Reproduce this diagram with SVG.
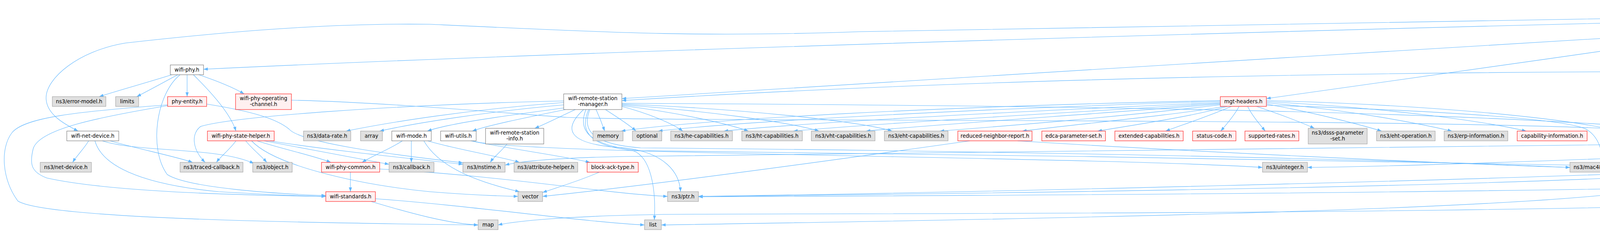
<svg xmlns="http://www.w3.org/2000/svg" width="6509" height="593" viewBox="0 0 6509 593">
<style>
.node rect{stroke-width:1}
.w{fill:#ffffff;stroke:#666666}
.g{fill:#e0e0e0;stroke:#999999}
.r{fill:#fff0f0;stroke:#ff0000}
.rt{fill:#999999;stroke:#666666}
text{font-family:"DejaVu Sans","Liberation Sans",sans-serif;font-size:13.33px;fill:#000;text-anchor:middle}
#edges path{fill:none;stroke:#63b8ff;stroke-width:1.1;marker-end:url(#ah)}
</style>
<defs>
<marker id="ah" viewBox="0 0 11 8" refX="11" refY="4" markerWidth="11" markerHeight="8" markerUnits="userSpaceOnUse" orient="auto"><path d="M0,0L11,4L0,8z" fill="#63b8ff"/></marker>
</defs>
<rect x="0" y="0" width="6509" height="593" fill="#ffffff"/>
<g id="edges">
<path d="M4991,35 C4800,55 4520,92 4361,101"/>
<path d="M4998,45 C4930,62 4860,78 4804,93"/>
<path d="M5076,45 C5066,62 5048,78 5036,93"/>
<path d="M5112,45 C5125,62 5140,78 5151,93"/>
<path d="M5150,45 C5200,62 5260,80 5292,93"/>
<path d="M5188,45 C5300,62 5400,85 5455,93"/>
<path d="M5197,41 C5350,58 5500,85 5580,93"/>
<path d="M5197,37 C5400,50 5650,78 5768,93"/>
<path d="M5197,34 C5450,45 5800,75 5960,93"/>
<path d="M5197,32 C5500,40 5900,70 6085,93"/>
<path d="M5197,30 C5550,37 6000,68 6192,93"/>
<path d="M5197,28 C5600,33 6100,66 6340,93"/>
<path d="M5008,45 C4920,100 4830,170 4804,247"/>
<path d="M5018,45 C4930,90 4900,180 5060,236 C5200,285 5330,315 5400,335"/>
<path d="M4991,33 C4000,45 3000,60 2200,81 C1800,95 1600,85 1100,62 C800,58 500,90 321,110 C200,130 118,200 118,250 C118,290 160,315 200,335"/>
<path d="M4991,39 C3500,70 1500,130 521,177"/>
<path d="M4994,44 C4000,100 2500,200 1592,252"/>
<path d="M4995,44 C4700,80 4635,150 4632,265 C4628,350 4600,380 4460,392 C4000,410 3600,425 3347,428"/>
<path d="M4303,118 L4303,166"/>
<path d="M4245,110 C3900,160 3500,215 3242,252"/>
<path d="M4285,118 C4230,170 4235,260 4240,335"/>
<path d="M4330,118 C4450,170 4620,250 4713,335"/>
<path d="M4695,112 C4550,135 4450,158 4348,172"/>
<path d="M4738,118 C4680,200 4570,280 4517,335"/>
<path d="M4750,118 C4745,200 4730,280 4728,335"/>
<path d="M4760,118 C4850,230 4950,300 5100,318 C5250,325 5350,325 5405,335"/>
<path d="M5020,118 L5020,166"/>
<path d="M4293,191 C4260,240 4210,290 4182,335"/>
<path d="M4299,191 C4290,250 4262,300 4252,335"/>
<path d="M4310,191 C4325,280 4345,360 4349,415"/>
<path d="M4257,183 C3500,185 2500,200 1592,257"/>
<path d="M4305,191 C4305,330 4280,420 4148,454 C3600,480 2500,495 1788,502"/>
<path d="M4314,191 C4420,330 4460,430 4224,484 C3900,540 2500,562 1693,575"/>
<path d="M4336,191 C4500,230 4600,290 4594,329 C4590,370 4500,392 4400,400 C4300,408 4230,418 4181,425"/>
<path d="M3124,262 C2600,285 2100,310 1853,335"/>
<path d="M3124,264 C2700,290 2250,315 2031,335"/>
<path d="M3124,266 C2750,295 2400,318 2217,335"/>
<path d="M3124,268 C2850,300 2600,320 2406,335"/>
<path d="M3124,259 C2500,278 1900,310 1685,335"/>
<path d="M3124,257 C2400,272 1800,305 1590,335"/>
<path d="M3135,272 C3000,295 2750,318 2617,335"/>
<path d="M3142,272 C3050,298 2900,320 2810,335"/>
<path d="M3152,272 C3100,295 3030,318 2984,335"/>
<path d="M3172,272 C3160,295 3140,318 3125,335"/>
<path d="M3194,272 C3205,295 3225,318 3239,335"/>
<path d="M3217,272 C3270,290 3330,312 3365,328"/>
<path d="M3242,266 C3350,285 3470,315 3537,335"/>
<path d="M3242,263 C3450,280 3630,315 3717,335"/>
<path d="M3242,260 C3550,275 3800,310 3907,335"/>
<path d="M3242,257 C3650,268 4000,300 4142,335"/>
<path d="M3242,269 C3600,280 4000,300 4060,330 C4095,350 4102,390 4102,415"/>
<path d="M1443,276 C1300,295 1150,315 1094,335"/>
<path d="M1448,280 C1350,300 1250,320 1209,335"/>
<path d="M1473,280 C1440,295 1400,315 1369,328"/>
<path d="M1526,280 C1535,300 1542,318 1548,335"/>
<path d="M1550,280 C1580,300 1610,318 1628,335"/>
<path d="M1592,272 C1660,290 1720,315 1748,335"/>
<path d="M1592,270 C1720,285 1860,315 1916,335"/>
<path d="M1592,268 C1800,282 2020,312 2097,335"/>
<path d="M1592,266 C1900,278 2200,310 2284,335"/>
<path d="M1443,262 C1200,280 1000,312 886,335"/>
<path d="M1443,268 C1250,285 1060,315 972,335"/>
<path d="M1443,258 C1000,268 600,298 514,323 C490,340 490,380 525,415"/>
<path d="M1500,280 C1480,330 1500,372 1640,385 C2500,395 3500,410 4307,427"/>
<path d="M1510,280 C1490,330 1510,368 1640,378 C2500,385 3500,405 4019,428"/>
<path d="M1507,280 C1485,330 1500,372 1620,385 C1665,400 1680,480 1675,562"/>
<path d="M1494,280 C1440,330 1450,370 1600,378 C1700,390 1740,440 1742,490"/>
<path d="M1592,264 C2800,270 3900,285 4442,346"/>
<path d="M1298,368 C1285,385 1265,400 1255,415"/>
<path d="M1205,360 C1300,380 1450,400 1510,415"/>
<path d="M1210,360 C1300,395 2800,400 3232,428"/>
<path d="M1030,360 C1000,380 950,400 927,415"/>
<path d="M1053,360 L1053,415"/>
<path d="M1085,360 C1120,420 1200,460 1330,490"/>
<path d="M1095,360 C1160,380 1280,400 1330,415"/>
<path d="M604,360 C590,380 565,400 554,415"/>
<path d="M629,360 C645,380 670,400 683,415"/>
<path d="M658,360 C720,380 810,400 847,415"/>
<path d="M676,360 C780,380 920,405 996,420"/>
<path d="M644,360 C700,420 900,470 1100,490 C1200,498 1280,501 1326,502"/>
<path d="M690,360 C850,385 1050,405 1185,420"/>
<path d="M429,268 C200,285 60,300 30,340 C0,380 5,460 46,514 C120,560 800,570 1224,575"/>
<path d="M429,270 C250,300 100,330 85,380 C75,420 80,440 120,455 C300,495 700,500 834,502"/>
<path d="M529,266 C650,285 710,305 740,330 C770,365 1000,395 1185,416"/>
<path d="M440,191 C380,210 300,232 254,247"/>
<path d="M455,191 C420,210 380,232 350,247"/>
<path d="M479,191 L479,247"/>
<path d="M495,191 C540,235 590,290 604,335"/>
<path d="M509,191 C550,205 595,222 625,240"/>
<path d="M461,191 C400,240 380,380 428,446 C480,480 700,495 834,500"/>
<path d="M746,256 C1000,262 1300,290 1450,300 C1700,312 3800,300 4228,335"/>
<path d="M227,360 C215,380 195,400 186,415"/>
<path d="M282,360 C350,380 450,400 493,415"/>
<path d="M243,360 C260,420 350,470 560,490 C700,498 780,501 834,502"/>
<path d="M262,360 C350,390 560,375 650,418"/>
<path d="M897,440 L897,490"/>
<path d="M972,432 C1300,450 1550,495 1709,502"/>
<path d="M950,515 C1050,545 1150,572 1224,575"/>
<path d="M961,508 C1200,525 1500,568 1650,575"/>
<path d="M1534,440 C1490,460 1430,478 1389,492"/>
<path d="M2483,360 C2200,400 1700,470 1389,502"/>
<path d="M2605,360 C3000,385 3700,418 4019,428"/>
<path d="M4787,272 C4770,295 4750,318 4738,335"/>
<path d="M4806,272 C4820,295 4840,318 4855,335"/>
<path d="M4829,272 C4900,295 5000,320 5046,335"/>
<path d="M4840,272 C4950,292 5100,312 5185,335"/>
<path d="M4847,268 C5000,290 5300,310 5398,335"/>
<path d="M4746,268 C4600,285 4400,312 4266,345"/>
<path d="M4847,264 C4950,290 4990,340 4962,380 C4900,470 4600,510 4460,522 C3500,550 2000,545 1700,548 C1450,552 1320,565 1275,575"/>
<path d="M4820,360 C4700,380 4500,412 4398,424"/>
<path d="M4800,360 C3500,380 1900,395 1600,400 C1450,403 1340,410 1293,422"/>
<path d="M4835,360 C4800,420 4600,470 4400,478 C3500,495 2500,500 1788,503"/>
<path d="M5275,360 C5295,380 5320,400 5335,415"/>
<path d="M5200,360 C5000,385 4500,412 4181,425"/>
<path d="M5438,360 C5420,380 5395,400 5380,415"/>
<path d="M5407,360 C5200,388 4600,410 4181,430"/>
<path d="M4307,438 C3800,460 2500,492 1788,502"/>
</g>
<g id="n_root" class="node"><rect class="rt" x="4991" y="5" width="206" height="40"/><text x="5002" y="21" style="text-anchor:start">src/wifi/model/wifi</text><text x="5002" y="36" style="text-anchor:start">-remote-station-manager.cc</text></g>
<g id="n_sta" class="node"><rect class="w" x="4245" y="93" width="116" height="25"/><text x="4303" y="110">sta-wifi-mac.h</text></g>
<g id="n_ap" class="node"><rect class="w" x="4695" y="93" width="112" height="25"/><text x="4751" y="110">ap-wifi-mac.h</text></g>
<g id="n_mtrailer" class="node"><rect class="w" x="4953" y="93" width="135" height="25"/><text x="5020.5" y="110">wifi-mac-trailer.h</text></g>
<g id="n_boolean" class="node"><rect class="g" x="5112" y="93" width="114" height="25"/><text x="5169" y="110">ns3/boolean.h</text></g>
<g id="n_ehtconf" class="node"><rect class="g" x="5249" y="93" width="175" height="25"/><text x="5336.5" y="110">ns3/eht-configuration.h</text></g>
<g id="n_enum" class="node"><rect class="g" x="5447" y="93" width="99" height="25"/><text x="5496.5" y="110">ns3/enum.h</text></g>
<g id="n_heconf" class="node"><rect class="g" x="5569" y="93" width="169" height="25"/><text x="5653.5" y="110">ns3/he-configuration.h</text></g>
<g id="n_htconf" class="node"><rect class="g" x="5762" y="93" width="166" height="25"/><text x="5845" y="110">ns3/ht-configuration.h</text></g>
<g id="n_htphy" class="node"><rect class="g" x="5953" y="93" width="102" height="25"/><text x="6004" y="110">ns3/ht-phy.h</text></g>
<g id="n_log" class="node"><rect class="g" x="6079" y="93" width="82" height="25"/><text x="6120" y="110">ns3/log.h</text></g>
<g id="n_sim" class="node"><rect class="g" x="6185" y="93" width="124" height="25"/><text x="6247" y="110">ns3/simulator.h</text></g>
<g id="n_vhtconf" class="node"><rect class="g" x="6333" y="93" width="174" height="25"/><text x="6420" y="110">ns3/vht-configuration.h</text></g>
<g id="n_wifiphy" class="node"><rect class="w" x="436" y="166" width="85" height="25"/><text x="478.5" y="183">wifi-phy.h</text></g>
<g id="n_wifimac" class="node"><rect class="w" x="4257" y="166" width="91" height="25"/><text x="4302.5" y="183">wifi-mac.h</text></g>
<g id="n_trailer" class="node"><rect class="g" x="4970" y="166" width="101" height="25"/><text x="5020.5" y="183">ns3/trailer.h</text></g>
<g id="n_errmodel" class="node"><rect class="g" x="134" y="247" width="137" height="25"/><text x="202.5" y="264">ns3/error-model.h</text></g>
<g id="n_limits" class="node"><rect class="g" x="296" y="247" width="59" height="25"/><text x="325.5" y="264">limits</text></g>
<g id="n_phyentity" class="node"><rect class="r" x="429" y="247" width="100" height="25"/><text x="479" y="264">phy-entity.h</text></g>
<g id="n_opchan" class="node"><rect class="r" x="603" y="240" width="143" height="40"/><text x="674.5" y="256">wifi-phy-operating</text><text x="674.5" y="271">-channel.h</text></g>
<g id="n_wrsm" class="node"><rect class="w" x="1443" y="240" width="149" height="40"/><text x="1517.5" y="256">wifi-remote-station</text><text x="1517.5" y="271">-manager.h</text></g>
<g id="n_mgt" class="node"><rect class="r" x="3124" y="247" width="118" height="25"/><text x="3183" y="264">mgt-headers.h</text></g>
<g id="n_mpdu" class="node"><rect class="w" x="4746" y="247" width="101" height="25"/><text x="4796.5" y="264">wifi-mpdu.h</text></g>
<g id="n_netdev" class="node"><rect class="w" x="171" y="335" width="133" height="25"/><text x="237.5" y="352">wifi-net-device.h</text></g>
<g id="n_psh" class="node"><rect class="r" x="531" y="335" width="171" height="25"/><text x="616.5" y="352">wifi-phy-state-helper.h</text></g>
<g id="n_datarate" class="node"><rect class="g" x="777" y="335" width="121" height="25"/><text x="837.5" y="352">ns3/data-rate.h</text></g>
<g id="n_array" class="node"><rect class="g" x="923" y="335" width="56" height="25"/><text x="951" y="352">array</text></g>
<g id="n_mode" class="node"><rect class="w" x="1003" y="335" width="101" height="25"/><text x="1053.5" y="352">wifi-mode.h</text></g>
<g id="n_utils" class="node"><rect class="w" x="1128" y="335" width="91" height="25"/><text x="1173.5" y="352">wifi-utils.h</text></g>
<g id="n_info" class="node"><rect class="w" x="1243" y="328" width="149" height="40"/><text x="1317.5" y="344">wifi-remote-station</text><text x="1317.5" y="359">-info.h</text></g>
<g id="n_memory" class="node"><rect class="g" x="1518" y="335" width="77" height="25"/><text x="1556.5" y="352">memory</text></g>
<g id="n_optional" class="node"><rect class="g" x="1619" y="335" width="75" height="25"/><text x="1656.5" y="352">optional</text></g>
<g id="n_hecap" class="node"><rect class="g" x="1717" y="335" width="158" height="25"/><text x="1796" y="352">ns3/he-capabilities.h</text></g>
<g id="n_htcap" class="node"><rect class="g" x="1899" y="335" width="155" height="25"/><text x="1976.5" y="352">ns3/ht-capabilities.h</text></g>
<g id="n_vhtcap" class="node"><rect class="g" x="2077" y="335" width="163" height="25"/><text x="2158.5" y="352">ns3/vht-capabilities.h</text></g>
<g id="n_ehtcap" class="node"><rect class="g" x="2264" y="335" width="163" height="25"/><text x="2345.5" y="352">ns3/eht-capabilities.h</text></g>
<g id="n_rnr" class="node"><rect class="r" x="2452" y="335" width="190" height="25"/><text x="2547" y="352">reduced-neighbor-report.h</text></g>
<g id="n_edca" class="node"><rect class="r" x="2667" y="335" width="163" height="25"/><text x="2748.5" y="352">edca-parameter-set.h</text></g>
<g id="n_extcap" class="node"><rect class="r" x="2854" y="335" width="175" height="25"/><text x="2941.5" y="352">extended-capabilities.h</text></g>
<g id="n_status" class="node"><rect class="r" x="3053" y="335" width="111" height="25"/><text x="3108.5" y="352">status-code.h</text></g>
<g id="n_rates" class="node"><rect class="r" x="3187" y="335" width="138" height="25"/><text x="3256" y="352">supported-rates.h</text></g>
<g id="n_dsss" class="node"><rect class="g" x="3349" y="328" width="151" height="40"/><text x="3424.5" y="344">ns3/dsss-parameter</text><text x="3424.5" y="359">-set.h</text></g>
<g id="n_ehtop" class="node"><rect class="g" x="3524" y="335" width="150" height="25"/><text x="3599" y="352">ns3/eht-operation.h</text></g>
<g id="n_erp" class="node"><rect class="g" x="3697" y="335" width="163" height="25"/><text x="3778.5" y="352">ns3/erp-information.h</text></g>
<g id="n_capinfo" class="node"><rect class="r" x="3884" y="335" width="179" height="25"/><text x="3973.5" y="352">capability-information.h</text></g>
<g id="n_ssid" class="node"><rect class="r" x="4138" y="335" width="60" height="25"/><text x="4168" y="352">ssid.h</text></g>
<g id="n_set" class="node"><rect class="g" x="4223" y="335" width="43" height="25"/><text x="4244.5" y="352">set</text></g>
<g id="n_umap" class="node"><rect class="g" x="4442" y="335" width="124" height="25"/><text x="4504" y="352">unordered_map</text></g>
<g id="n_variant" class="node"><rect class="g" x="4693" y="335" width="68" height="25"/><text x="4727" y="352">variant</text></g>
<g id="n_qelem" class="node"><rect class="w" x="4785" y="335" width="175" height="25"/><text x="4872.5" y="352">wifi-mac-queue-elem.h</text></g>
<g id="n_packet" class="node"><rect class="g" x="5035" y="335" width="104" height="25"/><text x="5087" y="352">ns3/packet.h</text></g>
<g id="n_amsdu" class="node"><rect class="w" x="5163" y="335" width="195" height="25"/><text x="5260.5" y="352">amsdu-subframe-header.h</text></g>
<g id="n_machdr" class="node"><rect class="w" x="5381" y="335" width="142" height="25"/><text x="5452" y="352">wifi-mac-header.h</text></g>
<g id="n_nsnetdev" class="node"><rect class="g" x="103" y="415" width="131" height="25"/><text x="168.5" y="432">ns3/net-device.h</text></g>
<g id="n_traced" class="node"><rect class="g" x="461" y="415" width="161" height="25"/><text x="541.5" y="432">ns3/traced-callback.h</text></g>
<g id="n_object" class="node"><rect class="g" x="647" y="415" width="101" height="25"/><text x="697.5" y="432">ns3/object.h</text></g>
<g id="n_common" class="node"><rect class="r" x="823" y="415" width="149" height="25"/><text x="897.5" y="432">wifi-phy-common.h</text></g>
<g id="n_callback" class="node"><rect class="g" x="996" y="415" width="115" height="25"/><text x="1053.5" y="432">ns3/callback.h</text></g>
<g id="n_nstime" class="node"><rect class="g" x="1185" y="415" width="108" height="25"/><text x="1239" y="432">ns3/nstime.h</text></g>
<g id="n_attrh" class="node"><rect class="g" x="1316" y="415" width="163" height="25"/><text x="1397.5" y="432">ns3/attribute-helper.h</text></g>
<g id="n_blockack" class="node"><rect class="r" x="1503" y="415" width="131" height="25"/><text x="1568.5" y="432">block-ack-type.h</text></g>
<g id="n_uinteger" class="node"><rect class="g" x="3232" y="415" width="115" height="25"/><text x="3289.5" y="432">ns3/uinteger.h</text></g>
<g id="n_mac48" class="node"><rect class="g" x="4019" y="415" width="162" height="25"/><text x="4100" y="432">ns3/mac48-address.h</text></g>
<g id="n_qos" class="node"><rect class="w" x="4307" y="415" width="91" height="25"/><text x="4352.5" y="432">qos-utils.h</text></g>
<g id="n_header" class="node"><rect class="g" x="5303" y="415" width="107" height="25"/><text x="5356.5" y="432">ns3/header.h</text></g>
<g id="n_standards" class="node"><rect class="r" x="834" y="490" width="127" height="25"/><text x="897.5" y="507">wifi-standards.h</text></g>
<g id="n_vector" class="node"><rect class="g" x="1326" y="490" width="63" height="25"/><text x="1357.5" y="507">vector</text></g>
<g id="n_ptr" class="node"><rect class="g" x="1709" y="490" width="79" height="25"/><text x="1748.5" y="507">ns3/ptr.h</text></g>
<g id="n_map" class="node"><rect class="g" x="1224" y="562" width="51" height="25"/><text x="1249.5" y="579">map</text></g>
<g id="n_list" class="node"><rect class="g" x="1650" y="562" width="43" height="25"/><text x="1671.5" y="579">list</text></g>
</svg>
